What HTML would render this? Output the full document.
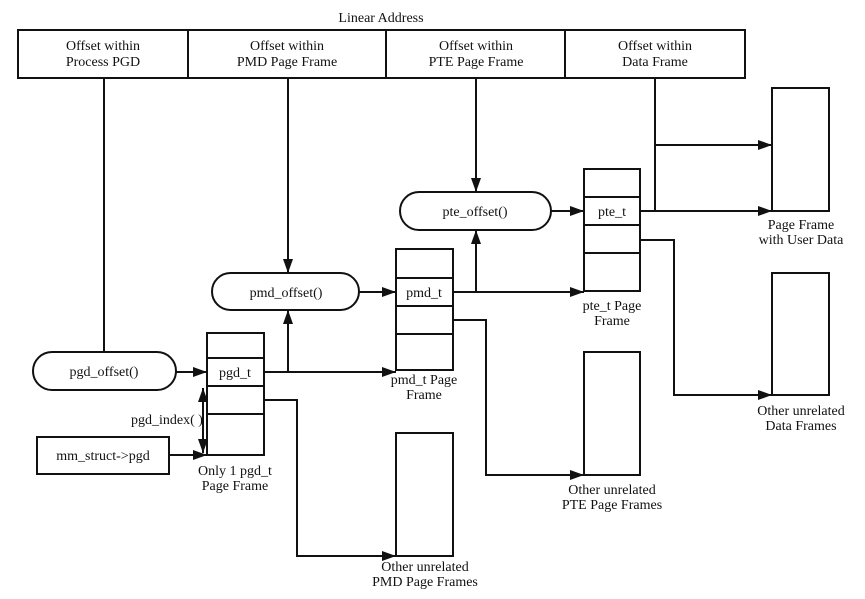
<!DOCTYPE html>
<html><head><style>
html,body{margin:0;padding:0;background:#fff;}
svg{display:block;}
text{font-family:"Liberation Serif",serif;font-size:14px;fill:#111;text-anchor:middle;}
</style></head><body>
<svg width="865" height="599" viewBox="0 0 865 599" xmlns="http://www.w3.org/2000/svg">
<defs><marker id="a" markerWidth="14" markerHeight="10" refX="14" refY="5" orient="auto" markerUnits="userSpaceOnUse"><path d="M0,0 L14,5 L0,10 z" fill="#111"/></marker>
<marker id="b" markerWidth="14" markerHeight="10" refX="14" refY="5" orient="auto-start-reverse" markerUnits="userSpaceOnUse"><path d="M0,0 L14,5 L0,10 z" fill="#111"/></marker></defs>
<g stroke="#111" stroke-width="2" fill="none">
<rect x="18" y="30" width="727" height="48"/>
<line x1="188" y1="30" x2="188" y2="78"/><line x1="386" y1="30" x2="386" y2="78"/><line x1="565" y1="30" x2="565" y2="78"/>
<line x1="104" y1="78" x2="104" y2="352"/>
<rect x="33" y="352" width="143" height="38" rx="19"/>
<line x1="176" y1="372" x2="207" y2="372" marker-end="url(#a)"/>
<rect x="207" y="333" width="57" height="122"/>
<line x1="207" y1="358" x2="264" y2="358"/><line x1="207" y1="386" x2="264" y2="386"/><line x1="207" y1="414" x2="264" y2="414"/>
<rect x="37" y="437" width="132" height="37"/>
<line x1="169" y1="455" x2="207" y2="455" marker-end="url(#a)"/>
<line x1="203" y1="388" x2="203" y2="453" marker-start="url(#b)" marker-end="url(#a)"/>
<line x1="264" y1="372" x2="396" y2="372" marker-end="url(#a)"/>
<line x1="288" y1="372" x2="288" y2="310" marker-end="url(#a)"/>
<polyline points="264,400 297,400 297,556 396,556" marker-end="url(#a)"/>
<rect x="396" y="433" width="57" height="123"/>
<line x1="288" y1="78" x2="288" y2="273" marker-end="url(#a)"/>
<rect x="212" y="273" width="147" height="37" rx="18.5"/>
<line x1="359" y1="292" x2="396" y2="292" marker-end="url(#a)"/>
<rect x="396" y="249" width="57" height="121"/>
<line x1="396" y1="278" x2="453" y2="278"/><line x1="396" y1="306" x2="453" y2="306"/><line x1="396" y1="334" x2="453" y2="334"/>
<line x1="453" y1="292" x2="584" y2="292" marker-end="url(#a)"/>
<line x1="476" y1="292" x2="476" y2="230" marker-end="url(#a)"/>
<polyline points="453,320 486,320 486,475 584,475" marker-end="url(#a)"/>
<rect x="584" y="352" width="56" height="123"/>
<line x1="476" y1="78" x2="476" y2="192" marker-end="url(#a)"/>
<rect x="400" y="192" width="151" height="38" rx="19"/>
<line x1="551" y1="211" x2="584" y2="211" marker-end="url(#a)"/>
<rect x="584" y="169" width="56" height="122"/>
<line x1="584" y1="197" x2="640" y2="197"/><line x1="584" y1="225" x2="640" y2="225"/><line x1="584" y1="253" x2="640" y2="253"/>
<line x1="640" y1="211" x2="772" y2="211" marker-end="url(#a)"/>
<line x1="655" y1="78" x2="655" y2="211"/>
<line x1="655" y1="145" x2="772" y2="145" marker-end="url(#a)"/>
<rect x="772" y="88" width="57" height="123"/>
<polyline points="640,240 674,240 674,395 772,395" marker-end="url(#a)"/>
<rect x="772" y="273" width="57" height="122"/>
</g>
<text x="381" y="22">Linear Address</text>
<text x="103" y="50">Offset within</text><text x="103" y="66">Process PGD</text>
<text x="287" y="50">Offset within</text><text x="287" y="66">PMD Page Frame</text>
<text x="476" y="50">Offset within</text><text x="476" y="66">PTE Page Frame</text>
<text x="655" y="50">Offset within</text><text x="655" y="66">Data Frame</text>
<text x="104" y="376">pgd_offset()</text>
<text x="235" y="377">pgd_t</text>
<text x="167" y="424">pgd_index( )</text>
<text x="103" y="460">mm_struct-&gt;pgd</text>
<text x="235" y="475">Only 1 pgd_t</text><text x="235" y="490">Page Frame</text>
<text x="286" y="297">pmd_offset()</text>
<text x="424" y="297">pmd_t</text>
<text x="424" y="384">pmd_t Page</text><text x="424" y="399">Frame</text>
<text x="425" y="571">Other unrelated</text><text x="425" y="586">PMD Page Frames</text>
<text x="475" y="216">pte_offset()</text>
<text x="612" y="216">pte_t</text>
<text x="612" y="310">pte_t Page</text><text x="612" y="325">Frame</text>
<text x="612" y="494">Other unrelated</text><text x="612" y="509">PTE Page Frames</text>
<text x="801" y="229">Page Frame</text><text x="801" y="244">with User Data</text>
<text x="801" y="415">Other unrelated</text><text x="801" y="430">Data Frames</text>
</svg>
</body></html>
